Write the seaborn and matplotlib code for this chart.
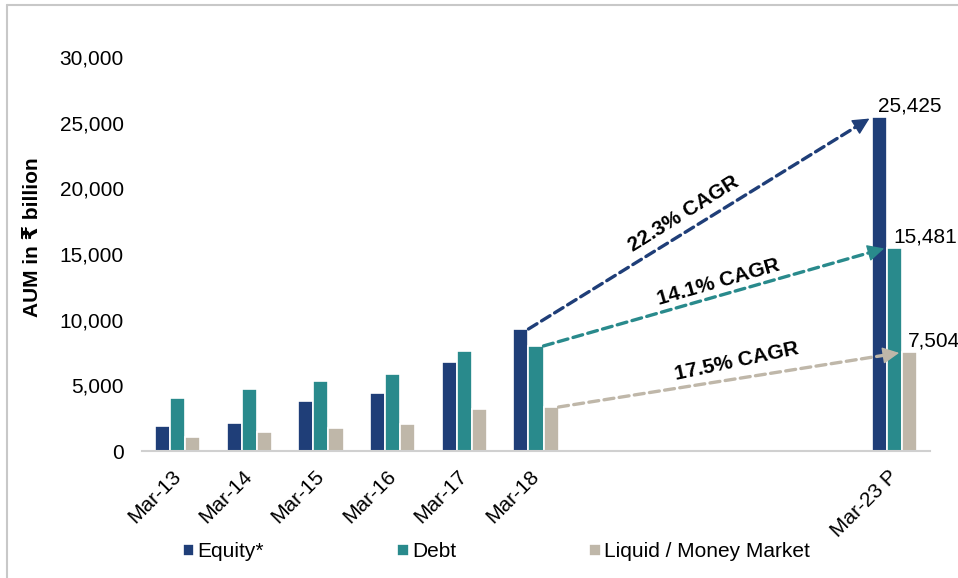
import pandas as pd
import numpy as np
import matplotlib
matplotlib.use("Agg")
import matplotlib.pyplot as plt
import seaborn as sns
from matplotlib.lines import Line2D
from matplotlib.ticker import FixedLocator, FuncFormatter

# slots on the x axis; the four gap slots carry no bars
slots = ["Mar-13", "Mar-14", "Mar-15", "Mar-16", "Mar-17", "Mar-18",
         "gap1", "gap2", "gap3", "gap4", "Mar-23 P"]
tick_labels = ["Mar-13", "Mar-14", "Mar-15", "Mar-16", "Mar-17", "Mar-18",
               "", "", "", "", "Mar-23 P"]
years = ["Mar-13", "Mar-14", "Mar-15", "Mar-16", "Mar-17", "Mar-18", "Mar-23 P"]

# AUM in Rs billion
equity = [1920, 2150, 3800, 4430, 6740, 9290, 25425]
debt = [4030, 4690, 5320, 5850, 7600, 8000, 15481]
liquid = [1040, 1420, 1720, 2080, 3220, 3350, 7504]

series = ["Equity*", "Debt", "Liquid / Money Market"]
colors = ["#1F3E78", "#298A8C", "#BFB7A9"]
cagr_text = ["22.3% CAGR", "14.1% CAGR", "17.5% CAGR"]
cagr_pos = [(7.06, 18085, 32), (7.55, 12840, 16), (7.80, 6790, 12)]

df = pd.DataFrame({
    "year": years * 3,
    "series": [s for s in series for _ in years],
    "value": equity + debt + liquid,
})

sns.set_style("white")
plt.rcParams["font.family"] = ["Liberation Sans", "DejaVu Sans"]
plt.rcParams["text.color"] = "black"
plt.rcParams["axes.labelcolor"] = "black"
plt.rcParams["xtick.color"] = "black"
plt.rcParams["ytick.color"] = "black"

fig, ax = plt.subplots(figsize=(9.58, 5.78), dpi=100)
fig.subplots_adjust(left=0.148, right=0.971, bottom=0.2197, top=0.9014)

sns.barplot(data=df, x="year", y="value", hue="series", order=slots,
            hue_order=series, palette=colors, saturation=1, width=0.63,
            edgecolor="white", linewidth=1.2, ax=ax)

handles, labels = ax.get_legend_handles_labels()
ax.get_legend().remove()

ax.set_xlim(-0.5, 10.5)
ax.set_ylim(0, 30000)
ax.set_yticks(range(0, 30001, 5000))
ax.yaxis.set_major_formatter(FuncFormatter(lambda v, p: f"{int(v):,}"))
ax.tick_params(axis="y", length=0, pad=13, labelsize=15)

ax.set_xticks(range(len(slots)))
ax.set_xticklabels(tick_labels, rotation=45, ha="right", va="center",
                   rotation_mode="anchor")
ax.tick_params(axis="x", which="major", length=0, pad=16, labelsize=15)
ax.xaxis.set_minor_locator(FixedLocator(np.arange(-0.5, 11, 1)))
ax.tick_params(axis="x", which="minor", length=5, width=1.2, color="#D0D0D0")

for s in ["top", "right", "left"]:
    ax.spines[s].set_visible(False)
ax.spines["bottom"].set_color("#D0D0D0")
ax.spines["bottom"].set_linewidth(1.5)

ax.set_xlabel("")
ax.set_ylabel("AUM in ₹ billion", fontsize=15, fontweight="bold")
ax.yaxis.set_label_coords(-0.1265, 0.543)

# CAGR arrows from Mar-18 to Mar-23 P, plus end labels
for i, cont in enumerate(ax.containers):
    bars = cont.patches
    b0, b1 = bars[5], bars[6]
    start = np.array([b0.get_x() + b0.get_width(), b0.get_height()])
    end = np.array([b1.get_x(), b1.get_height()])
    # dashed shaft
    ax.annotate("", xy=end, xytext=start,
                arrowprops=dict(arrowstyle="-", color=colors[i], lw=2.4,
                                ls=(0, (3, 1.6)), shrinkA=0, shrinkB=8))
    # solid head
    ax.annotate("", xy=end, xytext=start + 0.97 * (end - start),
                arrowprops=dict(arrowstyle="-|>", color=colors[i], lw=1,
                                mutation_scale=26, shrinkA=0, shrinkB=2))
    ax.annotate(f"{int(b1.get_height()):,}",
                xy=(b1.get_x() + b1.get_width() / 2, b1.get_height()),
                xytext=(-1, 4), textcoords="offset points",
                ha="left", va="baseline", fontsize=15)
    x, y, rot = cagr_pos[i]
    ax.text(x, y, cagr_text[i], rotation=rot, rotation_mode="anchor",
            ha="center", va="center", fontsize=15, fontweight="bold")

fig.legend(handles, labels, loc="center", bbox_to_anchor=(0.518, 0.045),
           ncol=3, frameon=False, fontsize=15, columnspacing=6.4,
           handlelength=0.55, handleheight=0.55, handletextpad=0.15)

# light frame on the left and top edge
fig.add_artist(Line2D([7 / 958, 7 / 958], [0, 1 - 5 / 578],
                      transform=fig.transFigure, color="#C8C8C8", lw=1.5))
fig.add_artist(Line2D([7 / 958, 1], [1 - 5 / 578, 1 - 5 / 578],
                      transform=fig.transFigure, color="#C8C8C8", lw=1.5))

fig.savefig("out.png", dpi=100)
